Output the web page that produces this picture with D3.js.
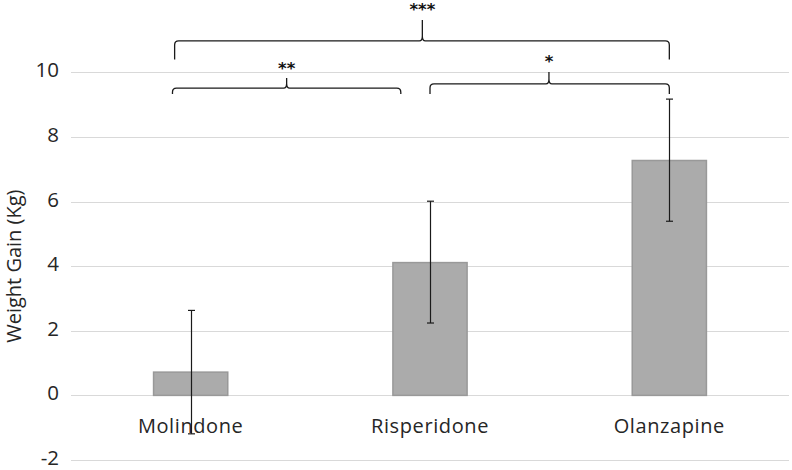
<!DOCTYPE html>
<html><head><meta charset="utf-8">
<script src="https://cdn.jsdelivr.net/npm/d3@7/dist/d3.min.js"></script>
<style>body{margin:0;background:#fff}svg{display:block}</style>
</head><body><svg id="c" width="792" height="470"></svg>
<script>
const categories = ["Molindone", "Risperidone", "Olanzapine"];
const means = [0.72, 4.11, 7.27];
const errLow = [-1.19, 2.24, 5.39];
const errHigh = [2.63, 6.01, 9.17];
const yTicks = [-2, 0, 2, 4, 6, 8, 10];
const yTitle = "Weight Gain (Kg)";
// significance brackets: from/to/tip as category index, levels in data units
const brFrom = [-0.067, -0.076, 1.0];
const brTo = [2.0, 0.878, 2.0];
const brTip = [0.968, 0.401, 1.497];
const brLine = [10.97, 9.51, 9.64];
const brEnd = [10.40, 9.33, 9.33];
const brPeak = [11.62, 9.82, 10.01];
const brLabel = ["***", "**", "*"];

const svg = d3.select("#c");
const x = d3.scaleBand().domain(categories).range([71, 789]).paddingInner(0.69).paddingOuter(0.345);
const y = d3.scaleLinear().domain([-2, 10]).range([460, 72.3]);
const bw = x.bandwidth();
const xi = d3.scaleLinear().domain([0, 2]).range([x(categories[0]) + bw/2, x(categories[2]) + bw/2]);

// gridlines
svg.append("g").selectAll("line").data(yTicks).join("line")
  .attr("x1", 71).attr("x2", 789)
  .attr("y1", d => Math.round(y(d)) + 0.5).attr("y2", d => Math.round(y(d)) + 0.5)
  .attr("stroke", "#d9d9d9").attr("stroke-width", 1.2);

// y axis labels
const yAxis = d3.axisLeft(y).tickValues(yTicks).tickSize(0).tickPadding(0).tickFormat(d => d);
const ga = svg.append("g").attr("transform", "translate(59,0)").call(yAxis);
ga.select(".domain").remove();
ga.selectAll("text").attr("font-family", "Open Sans").attr("font-size", 20.5).attr("fill", "#262626")
  .attr("dy", "0.22em");

// y title
svg.append("text").attr("transform", `translate(21,${(y(10)+y(-2))/2}) rotate(-90)`)
  .attr("text-anchor", "middle").attr("font-family", "Open Sans").attr("font-size", 20)
  .attr("fill", "#262626").text(yTitle);

// bars
svg.append("g").selectAll("rect").data(means).join("rect")
  .attr("x", (d, i) => x(categories[i]))
  .attr("width", bw)
  .attr("y", d => y(Math.max(0, d)))
  .attr("height", d => Math.abs(y(d) - y(0)))
  .attr("fill", "#ababab").attr("stroke", "#999999").attr("stroke-width", 1.5);

// category labels
svg.append("g").selectAll("text").data(categories).join("text")
  .attr("x", d => x(d) + bw/2).attr("y", 433)
  .attr("text-anchor", "middle").attr("font-family", "Open Sans").attr("font-size", 20)
  .attr("letter-spacing", 0.6)
  .attr("fill", "#262626").text(d => d);

// error bars
const eg = svg.append("g").attr("stroke", "#1a1a1a").attr("stroke-width", 1.2);
categories.forEach((c, i) => {
  const cx = Math.round(x(c) + bw/2) + 0.5;
  eg.append("line").attr("x1", cx).attr("x2", cx).attr("y1", y(errLow[i])).attr("y2", y(errHigh[i]));
  [errLow[i], errHigh[i]].forEach(v => {
    eg.append("line").attr("x1", cx - 3.5).attr("x2", cx + 3.5).attr("y1", y(v)).attr("y2", y(v));
  });
});

// brackets
const bg = svg.append("g");
brLabel.forEach((lab, i) => {
  const x0 = xi(brFrom[i]), x1 = xi(brTo[i]), xt = xi(brTip[i]);
  const yl = y(brLine[i]), ye = y(brEnd[i]), yp = y(brPeak[i]);
  const r = 4;
  const p = d3.path();
  p.moveTo(x0, ye);
  p.lineTo(x0, yl + r);
  p.quadraticCurveTo(x0, yl, x0 + r, yl);
  p.lineTo(xt - 3, yl);
  p.quadraticCurveTo(xt, yl, xt, yl - 5);
  p.lineTo(xt, yp);
  p.moveTo(xt, yl - 5);
  p.quadraticCurveTo(xt, yl, xt + 3, yl);
  p.lineTo(x1 - r, yl);
  p.quadraticCurveTo(x1, yl, x1, yl + r);
  p.lineTo(x1, ye);
  bg.append("path").attr("d", p.toString()).attr("fill", "none")
    .attr("stroke", "#1a1a1a").attr("stroke-width", 1.3);
  bg.append("text").attr("x", xt).attr("y", yp - 4.5)
    .attr("text-anchor", "middle").attr("font-family", "DejaVu Sans").attr("font-weight", "bold")
    .attr("font-size", 16.5).attr("fill", "#111").text(lab);
});
</script></body></html>
